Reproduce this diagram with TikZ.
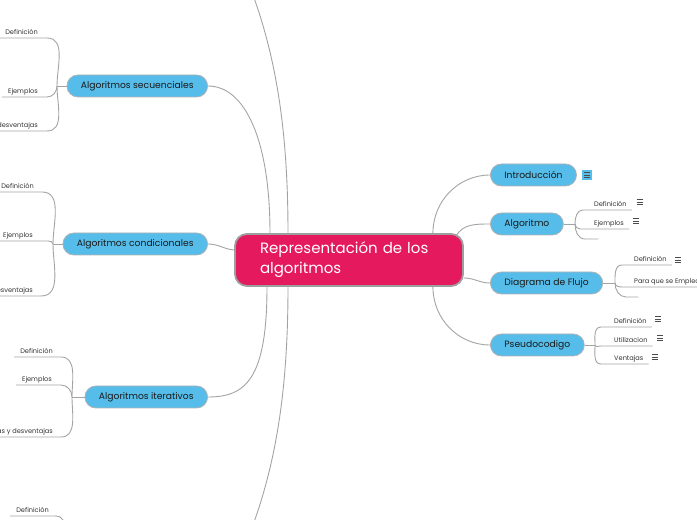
\documentclass[tikz,border=0pt]{standalone}
\usepackage{fontspec}
\setmainfont{Poppins}
\definecolor{rootpink}{HTML}{E5195E}
\definecolor{topicblue}{HTML}{56BDEA}
\definecolor{linkgray}{HTML}{A3A3A3}
\begin{document}
\begin{tikzpicture}[x=1pt,y=1pt]
	\tikzstyle{every node}=[font=\fontsize{7pt}{8pt}\selectfont]
	\tikzstyle{root}=[fill=rootpink, draw=black!38, line width=1.8pt, rounded corners=12pt, text=white, text width=178pt, align=left, inner xsep=25pt, minimum height=52pt, font=\fontsize{15pt}{20pt}\selectfont]
	\tikzstyle{topic}=[fill=topicblue, draw=black!30, line width=0.8pt, rounded corners=11pt, minimum height=22pt, inner xsep=14pt, text=black!90, font=\fontsize{9.2pt}{11pt}\selectfont]
	\tikzstyle{leaf}=[inner xsep=0pt, inner ysep=2pt, text height=5pt, text depth=1.5pt, text=black!80, font=\fontsize{6.6pt}{8pt}\selectfont]
	\tikzstyle{note}=[minimum width=9pt, minimum height=8pt, inner sep=0pt,
		path picture={\foreach \k in {-2.3,0,2.3} \draw[black!70, line width=0.7pt] ([shift={(-3.2pt,\k pt)}]path picture bounding box.center) -- ++(6.4pt,0);}]
	\tikzstyle{link}=[draw=linkgray, line width=0.9pt]
	
	\useasboundingbox (0,0) rectangle (697,520);
	
	% central topic
	\node[root] (rep) at (349,260) {Representación de los algoritmos};
	
	% left topics
	\node[topic, anchor=east] (sec) at (208,434) {Algoritmos secuenciales};
	\node[topic, anchor=east] (cond) at (208,276) {Algoritmos condicionales};
	\node[topic, anchor=east] (iter) at (208,123) {Algoritmos iterativos};
	
	% right topics
	\node[topic, anchor=west] (intro) at (490,345) {Introducción};
	\node[topic, anchor=west] (algo) at (490,296) {Algoritmo};
	\node[topic, anchor=west] (diag) at (490,237) {Diagrama de Flujo};
	\node[topic, anchor=west] (pseudo) at (490,175) {Pseudocodigo};
	
	% branches off the page
	\coordinate (upper) at (230,580);
	\coordinate (lower) at (230,-60);
	\draw[link] ([xshift=-61pt]rep.north) .. controls (288,420) and (268,500) .. (upper);
	\draw[link] ([xshift=-61pt]rep.south) .. controls (288,100) and (268,20) .. (lower);
	
	% center to topics
	\draw[link] ([xshift=-79pt]rep.north) .. controls (270,380) and (245,434) .. (sec.east);
	\draw[link] ([xshift=-82pt]rep.south) .. controls (267,140) and (245,123) .. (iter.east);
	\draw[link] (cond.east) to[out=0,in=175] ([yshift=10pt]rep.west);
	\draw[link] ([xshift=-31pt]rep.north east) to[out=90,in=180] (intro.west);
	\draw[link] ([xshift=-8pt,yshift=-3pt]rep.north east) to[out=60,in=180] (algo.west);
	\draw[link] ([yshift=-18pt]rep.east) to[out=0,in=180] (diag.west);
	\draw[link] ([xshift=-31pt]rep.south east) to[out=-90,in=180] (pseudo.west);
	
	% Algoritmos secuenciales
	\coordinate (secj) at (57,434);
	\node[leaf, anchor=south east] (secdef) at (38,482) {Definición};
	\node[leaf, anchor=south east] (secej) at (38,423) {Ejemplos};
	\node[leaf, anchor=south east] (secven) at (38,389) {Ventajas y desventajas};
	\draw[link] (sec.west) -- (secj);
	\draw[link] (secj) to[out=90,in=0] ([xshift=9pt]secdef.south east) -- ([xshift=-6pt]secdef.south west);
	\draw[link] (secj) to[out=-90,in=0] ([xshift=9pt]secej.south east) -- ([xshift=-6pt]secej.south west);
	\draw[link] (secj) to[out=-90,in=0] ([xshift=9pt]secven.south east) -- ([xshift=-6pt]secven.south west);
	
	% Algoritmos condicionales
	\coordinate (condj) at (53,276);
	\node[leaf, anchor=south east] (conddef) at (34,328) {Definición};
	\node[leaf, anchor=south east] (condej) at (33,279) {Ejemplos};
	\node[leaf, anchor=south east] (condven) at (33,224) {Ventajas y desventajas};
	\draw[link] (cond.west) -- (condj);
	\draw[link] (condj) to[out=90,in=0] ([xshift=8pt]conddef.south east) -- ([xshift=-6pt]conddef.south west);
	\draw[link] (condj) to[out=90,in=0] ([xshift=15pt]condej.south east) -- ([xshift=-6pt]condej.south west);
	\draw[link] (condj) to[out=-90,in=0] ([xshift=8pt]condven.south east) -- ([xshift=-6pt]condven.south west);
	
	% Algoritmos iterativos
	\coordinate (iterj) at (72,123);
	\node[leaf, anchor=south east] (iterdef) at (53,163) {Definición};
	\node[leaf, anchor=south east] (iterej) at (52,135) {Ejemplos};
	\node[leaf, anchor=south east] (iterven) at (53,83) {Ventajas y desventajas};
	\draw[link] (iter.west) -- (iterj);
	\draw[link] (iterj) to[out=90,in=0] ([xshift=8pt]iterdef.south east) -- ([xshift=-6pt]iterdef.south west);
	\draw[link] (iterj) to[out=90,in=0] ([xshift=9pt]iterej.south east) -- ([xshift=-6pt]iterej.south west);
	\draw[link] (iterj) to[out=-90,in=0] ([xshift=8pt]iterven.south east) -- ([xshift=-6pt]iterven.south west);
	
	% topic below the page
	\coordinate (botj) at (62,-40);
	\node[leaf, anchor=south east] (botdef) at (49,4) {Definición};
	\draw[link] (botj) to[out=90,in=0] ([xshift=6pt]botdef.south east) -- ([xshift=-6pt]botdef.south west);
	
	% Introduccion
	\node[note, fill=topicblue, minimum width=10pt, minimum height=10pt] (intron) at (587,345) {};
	
	% Algoritmo
	\coordinate (algoj) at (575,296);
	\node[leaf, anchor=south west] (algodef) at (594,310) {Definición};
	\node[leaf, anchor=south west] (algoej) at (594,291) {Ejemplos};
	\node[leaf, anchor=south west, minimum width=13pt] (algox) at (585,281) {};
	\draw[link] (algo.east) -- (algoj);
	\draw[link] (algoj) to[out=90,in=180] ([xshift=-11pt]algodef.south west) -- ([xshift=5pt]algodef.south east);
	\draw[link] (algoj) to[out=-90,in=180] ([xshift=-14pt]algoej.south west) -- ([xshift=5pt]algoej.south east);
	\draw[link] (algoj) to[out=-90,in=180] (algox.south west) -- (algox.south east);
	\node[note] (algodefn) at (640,318) {};
	\node[note] (algoejn) at (636,299) {};
	
	% Diagrama de Flujo
	\coordinate (diagj) at (615,237);
	\node[leaf, anchor=south west] (diagdef) at (634,255) {Definición};
	\node[leaf, anchor=south west] (diagpara) at (634,233) {Para que se Emplea};
	\node[leaf, anchor=south west, minimum width=12pt] (diagx) at (626,223) {};
	\draw[link] (diag.east) -- (diagj);
	\draw[link] (diagj) to[out=90,in=180] ([xshift=-12pt]diagdef.south west) -- ([xshift=5pt]diagdef.south east);
	\draw[link] (diagj) to[out=-90,in=180] ([xshift=-12pt]diagpara.south west) -- ([xshift=5pt]diagpara.south east);
	\draw[link] (diagj) to[out=-90,in=180] (diagx.south west) -- (diagx.south east);
	\node[note] (diagdefn) at (678,260) {};
	
	% Pseudocodigo
	\coordinate (pseudoj) at (595,175);
	\node[leaf, anchor=south west] (pseudodef) at (614,193) {Definición};
	\node[leaf, anchor=south west] (pseudoutil) at (614,174) {Utilizacion};
	\node[leaf, anchor=south west] (pseudoven) at (614,156) {Ventajas};
	\draw[link] (pseudo.east) -- (pseudoj);
	\draw[link] (pseudoj) to[out=90,in=180] ([xshift=-13pt]pseudodef.south west) -- ([xshift=5pt]pseudodef.south east);
	\draw[link] (pseudoj) to[out=-90,in=180] ([xshift=-13pt]pseudoutil.south west) -- ([xshift=5pt]pseudoutil.south east);
	\draw[link] (pseudoj) to[out=-90,in=180] ([xshift=-13pt]pseudoven.south west) -- ([xshift=5pt]pseudoven.south east);
	\node[note] (pseudodefn) at (658,201) {};
	\node[note] (pseudoutiln) at (660,182) {};
	\node[note] (pseudovenn) at (655,163) {};
	
\end{tikzpicture}
\end{document}
